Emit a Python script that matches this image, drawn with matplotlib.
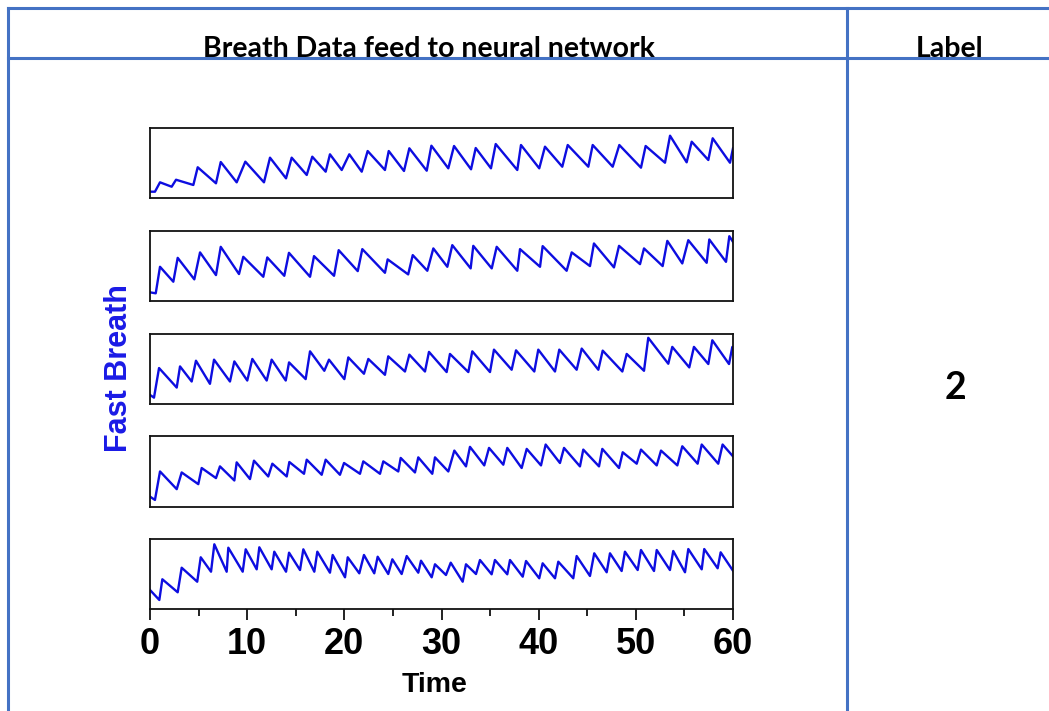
import matplotlib
matplotlib.use("Agg")
import matplotlib.pyplot as plt
from matplotlib.lines import Line2D

# ---------------- data (time in s, signal in % of panel height) ----------------
breath1_t = [0.0, 0.51, 1.03, 2.23, 2.68, 4.46, 4.91, 6.79, 7.28, 8.92, 9.81, 11.73, 12.35, 14.0,
             14.58, 16.13, 16.70, 18.08, 18.52, 19.73, 20.51, 21.79, 22.40, 24.18, 24.57, 26.14,
             26.69, 28.48, 28.96, 30.70, 31.29, 33.04, 33.52, 35.09, 35.58, 37.80, 38.18, 40.06,
             40.65, 42.43, 42.99, 45.11, 45.56, 47.62, 48.30, 50.53, 51.01, 53.0, 53.52, 55.23,
             55.75, 57.46, 57.91, 59.69, 60.0]
breath1_v = [9, 9, 22.4, 16.1, 26.1, 18.6, 43.9, 21, 51.4, 22.4, 51.9, 22.4, 57.6, 28.1,
             57.6, 32.9, 59, 37.6, 62.4, 40, 62.4, 37.6, 67.1, 40, 67.1, 38.6,
             71, 39, 74.7, 42.4, 74.3, 41, 71.4, 42.4, 77.1, 40, 75.7, 42.4,
             73.3, 44.7, 75.7, 44.7, 75.7, 44.7, 75.7, 43.3, 74.3, 50.4, 89, 51,
             80.4, 54.3, 85.3, 50.4, 71]

breath2_t = [0.0, 0.59, 1.03, 2.40, 2.85, 4.56, 5.15, 6.79, 7.28, 9.16, 9.60, 11.66, 12.07, 13.82,
             14.30, 16.47, 16.88, 18.94, 19.42, 21.38, 21.85, 24.18, 24.46, 26.57, 27.04, 28.54,
             29.16, 30.60, 31.11, 33.0, 33.27, 35.17, 35.68, 37.80, 38.08, 40.14, 40.41, 42.88,
             43.40, 45.28, 45.69, 47.75, 48.27, 50.43, 50.84, 52.76, 53.24, 54.78, 55.40, 57.29,
             57.56, 59.28, 59.62, 60.0]
breath2_v = [11.7, 10.3, 48.3, 26.9, 61.1, 30.3, 68.9, 36.4, 76.9, 37.9, 62.6, 34, 61.7, 35.4,
             68.3, 34, 63.6, 35.4, 72.1, 42.1, 73.6, 39.7, 58.9, 37.4, 65, 42.6,
             74.6, 48.3, 79.3, 46, 78.3, 46, 76.9, 42.6, 73.6, 48.3, 77.9, 42.6,
             68.9, 49.3, 81.7, 47.4, 78.3, 52.1, 74.6, 49.3, 85.4, 53.1, 86.4, 54,
             87.4, 55.4, 92.1, 84]

breath3_t = [0.0, 0.41, 0.93, 2.75, 3.09, 4.29, 4.73, 6.17, 6.59, 8.23, 8.68, 10.01, 10.53, 12.01,
             12.52, 13.97, 14.31, 16.02, 16.47, 17.94, 18.42, 20.0, 20.41, 22.02, 22.47, 24.18,
             24.52, 26.24, 26.69, 28.30, 28.71, 30.53, 30.87, 32.76, 33.17, 34.99, 35.40, 37.22,
             37.67, 39.55, 39.96, 41.68, 42.12, 43.91, 44.43, 46.14, 46.59, 48.61, 49.06, 50.84,
             51.28, 53.34, 53.75, 55.50, 55.98, 57.46, 57.87, 59.59, 59.93, 60.0]
breath3_v = [12.9, 9, 51, 23.3, 53.3, 31.9, 61.4, 28.6, 62.9, 31.9, 60.4, 33.3, 63.9, 33.3,
             62.9, 33.3, 59, 35.3, 74.7, 47.1, 62.9, 35.3, 66.1, 42.9, 63.9, 41.4,
             67.6, 46.1, 70, 46.1, 73.9, 45.3, 71, 45.3, 74.7, 45.3, 77.1, 48.6,
             76.1, 46.1, 77.1, 46.1, 77.1, 48.6, 78.6, 48.6, 75.7, 46.1, 71, 47.1,
             93.9, 57.1, 81, 51.9, 81, 56.7, 90.4, 56.7, 81, 78.1]

breath4_t = [0.0, 0.51, 1.03, 2.75, 3.26, 4.97, 5.32, 6.79, 7.20, 8.68, 8.92, 10.29, 10.70, 12.17,
             12.59, 14.07, 14.34, 15.85, 16.13, 17.67, 18.08, 19.55, 19.97, 21.61, 21.95, 23.67,
             24.01, 25.55, 25.80, 27.27, 27.61, 29.05, 29.33, 30.70, 31.32, 32.52, 32.93, 34.40,
             34.89, 36.36, 36.77, 38.25, 38.77, 40.24, 40.72, 42.19, 42.61, 44.25, 44.59, 46.21,
             46.55, 48.27, 48.65, 50.09, 50.53, 52.15, 52.59, 54.27, 54.78, 56.36, 56.78, 58.48,
             58.93, 60.0]
breath4_v = [14, 9.3, 49.7, 24.6, 48.3, 31.7, 54.6, 40.3, 56.9, 36.9, 62.6, 38.9, 65, 42.6,
             60.7, 42.6, 63.1, 46.4, 66.4, 45, 66.4, 45, 61.7, 46.4, 64, 46.4,
             64, 49.7, 68.9, 48.3, 69.7, 46.4, 69.7, 49.7, 79.3, 56.9, 84.6, 58.3,
             83.1, 59.3, 83.1, 54.6, 81.7, 58.3, 87.9, 61.7, 83.1, 56.9, 80.7, 56.9,
             81.7, 54.6, 76.9, 60.7, 80.7, 58.3, 79.3, 58.3, 85.4, 60.7, 87.9, 60.7,
             87.9, 71.1]

breath5_t = [0.0, 0.96, 1.27, 2.85, 3.26, 4.86, 5.22, 6.28, 6.62, 7.89, 8.06, 9.54, 9.85, 10.98,
             11.25, 12.52, 12.79, 14.0, 14.31, 15.44, 15.78, 16.91, 17.22, 18.52, 18.80, 20.07,
             20.35, 21.54, 22.02, 23.08, 23.43, 24.52, 24.94, 25.90, 26.42, 27.61, 27.89, 28.99,
             29.33, 30.46, 30.95, 32.18, 32.52, 33.55, 33.96, 35.16, 35.50, 36.77, 37.05, 38.36,
             38.70, 40.06, 40.41, 41.68, 42.02, 43.56, 43.91, 45.28, 45.72, 47.0, 47.34, 48.54,
             48.88, 50.19, 50.53, 51.87, 52.15, 53.51, 53.85, 55.06, 55.40, 56.78, 57.04, 58.42,
             58.73, 60.0]
breath5_v = [27.6, 13.3, 42.9, 24.3, 59.4, 39.4, 74.3, 53.7, 92.9, 53.7, 88, 53.7, 85.7, 57.1,
             88.6, 57.1, 82.3, 53.7, 80.9, 56.1, 85.7, 53.7, 82.3, 52.3, 77.6, 45.7,
             74.3, 51.4, 77.6, 51.4, 75.1, 50.4, 71.4, 50.4, 76.1, 52.3, 69.4, 45.7,
             64.3, 49, 66.6, 39.4, 64.3, 50.4, 70.4, 50, 70.4, 50, 70.4, 46.6,
             69, 44.3, 65.7, 44.3, 68, 44.3, 76.1, 47.6, 80, 52.9, 80, 54.7,
             82.3, 56.1, 84.7, 54.7, 84.7, 56.1, 83.3, 52.9, 86.1, 57.1, 86.1, 58.6,
             81.4, 55.1]

series_t = [breath1_t, breath2_t, breath3_t, breath4_t, breath5_t]
series_v = [breath1_v, breath2_v, breath3_v, breath4_v, breath5_v]

time_ticks = [0, 10, 20, 30, 40, 50, 60]
time_minor = [5, 15, 25, 35, 45, 55]
header_left = "Breath Data feed to neural network"
header_right = "Label"
label_value = "2"
y_label = "Fast Breath"
x_label = "Time"

# ---------------- figure ----------------
W, H = 1049, 711
fig = plt.figure(figsize=(W / 100, H / 100), dpi=100)
fig.patch.set_facecolor("white")

# overlay in pixel coordinates for the table frame and texts
ov = fig.add_axes([0, 0, 1, 1], zorder=0)
ov.set_xlim(0, W)
ov.set_ylim(H, 0)
ov.axis("off")

tbl = "#4472C4"
lw_t = 2.2
ov.add_line(Line2D([8, W], [8, 8], color=tbl, lw=lw_t))
ov.add_line(Line2D([8, W], [58, 58], color=tbl, lw=lw_t))
ov.add_line(Line2D([8, 8], [8, H], color=tbl, lw=lw_t))
ov.add_line(Line2D([847, 847], [8, H], color=tbl, lw=lw_t))

hdr_font = ["Lato", "DejaVu Sans"]
ov.text(429, 57, header_left, ha="center", va="baseline", fontsize=20.5,
        fontweight="bold", family=hdr_font, color="black", zorder=1)
ov.text(950, 57, header_right, ha="center", va="baseline", fontsize=20.5,
        fontweight="bold", family=hdr_font, color="black", zorder=1)
ov.text(955, 388, label_value, ha="center", va="center", fontsize=27,
        fontweight="bold", family=hdr_font, color="black")

arial = ["Liberation Sans", "DejaVu Sans"]
ov.text(119, 368, y_label, ha="center", va="center", rotation=90, fontsize=22,
        fontweight="bold", family=arial, color="#1a1ae6")
ov.text(435, 685, x_label, ha="center", va="center", fontsize=20.5,
        fontweight="bold", family=arial, color="black")

# ---------------- panels ----------------
left_px, right_px = 150, 733
panel_px = [(128, 198), (230.7, 300.5), (333.5, 404), (436, 506.5), (539.3, 609.3)]

for i, (top, bot) in enumerate(panel_px):
    ax = fig.add_axes([left_px / W, 1 - bot / H, (right_px - left_px) / W, (bot - top) / H],
                      zorder=2)
    ax.plot(series_t[i], series_v[i], color="#0d0de0", lw=1.7, solid_joinstyle="round")
    ax.set_xlim(0, 60)
    ax.set_ylim(0, 100)
    ax.set_yticks([])
    for s in ax.spines.values():
        s.set_linewidth(1.3)
        s.set_color("#111111")
    ax.set_facecolor("white")
    if i == len(panel_px) - 1:
        ax.set_xticks(time_ticks)
        ax.set_xticks(time_minor, minor=True)
        ax.set_xticklabels([str(v) for v in time_ticks], fontsize=26, fontweight="bold",
                           family=arial)
        ax.tick_params(axis="x", which="major", direction="out", length=8, width=1.3,
                       pad=5, color="#111111")
        ax.tick_params(axis="x", which="minor", direction="out", length=5, width=1.3,
                       color="#111111")
    else:
        ax.set_xticks([])

fig.savefig("out.png", dpi=100, facecolor="white")
